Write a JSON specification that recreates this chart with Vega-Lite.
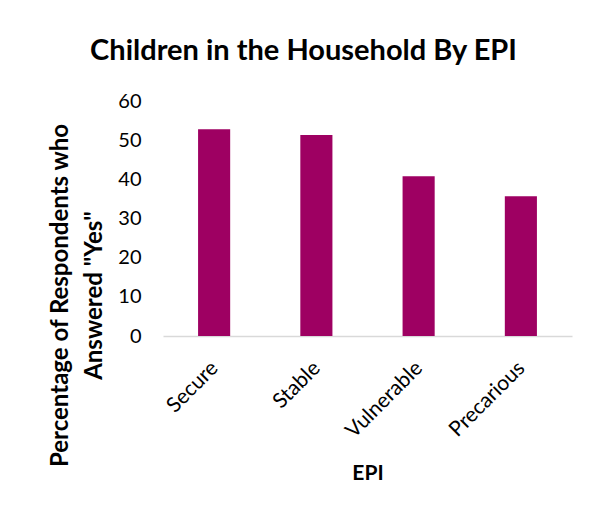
{
  "$schema": "https://vega.github.io/schema/vega-lite/v6.json",
  "width": 409,
  "height": 235,
  "autosize": {"type": "none"},
  "padding": {"left": 163, "top": 101, "right": 22, "bottom": 180},
  "background": "white",
  "title": {
    "text": "Children in the Household By EPI",
    "font": "Lato",
    "fontSize": 29,
    "fontWeight": "bold",
    "color": "#000000",
    "anchor": "middle",
    "dx": -64,
    "offset": 25
  },
  "data": {
    "values": [
      {"EPI": "Secure", "pct": 52.8},
      {"EPI": "Stable", "pct": 51.3},
      {"EPI": "Vulnerable", "pct": 40.8},
      {"EPI": "Precarious", "pct": 35.7}
    ]
  },
  "mark": {"type": "bar", "color": "#9E0062"},
  "encoding": {
    "x": {
      "field": "EPI",
      "type": "nominal",
      "sort": null,
      "scale": {"paddingInner": 0.686, "paddingOuter": 0.343},
      "axis": {
        "title": "EPI",
        "titleFont": "Lato",
        "titleFontSize": 21,
        "titleFontWeight": "bold",
        "titleColor": "#000000",
        "titleY": 137,
        "titleBaseline": "middle",
        "labelAngle": -45,
        "labelFont": "Lato",
        "labelFontSize": 21,
        "labelColor": "#000000",
        "labelPadding": 21,
        "labelOffset": -7,
        "ticks": false,
        "domainColor": "#d9d9d9",
        "domainWidth": 1.5,
        "grid": false
      }
    },
    "y": {
      "field": "pct",
      "type": "quantitative",
      "scale": {"domain": [0, 60]},
      "axis": {
        "title": ["Percentage of Respondents who", "Answered \"Yes\""],
        "titleFont": "Lato",
        "titleFontSize": 24,
        "titleFontWeight": "bold",
        "titleColor": "#000000",
        "titleLineHeight": 34,
        "titleAngle": -90,
        "titleX": -96,
        "titleY": 194,
        "titleAlign": "center",
        "titleBaseline": "alphabetic",
        "values": [0, 10, 20, 30, 40, 50, 60],
        "labelFont": "Lato",
        "labelFontSize": 20,
        "labelColor": "#000000",
        "labelPadding": 22,
        "ticks": false,
        "domain": false,
        "grid": false
      }
    }
  },
  "config": {"view": {"stroke": null}}
}
